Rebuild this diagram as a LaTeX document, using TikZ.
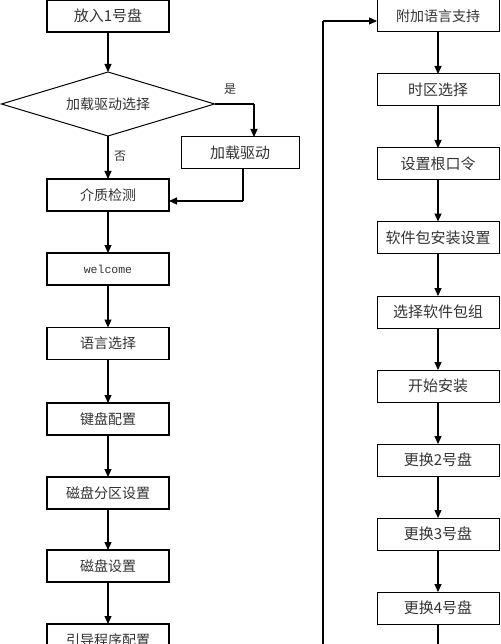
\documentclass[tikz,border=0pt]{standalone}
\usepackage{fontspec}
\newfontfamily\cjk{Noto Sans CJK SC}
\newfontfamily\monof{Liberation Mono}
\usetikzlibrary{shapes.geometric,arrows.meta}
\begin{document}
\begin{tikzpicture}[x=1pt,y=-1pt,
  lbox/.style={draw,line width=1.5pt,minimum width=122pt,minimum height=32pt,inner sep=0pt,outer sep=0pt,font=\cjk\fontsize{14}{14}\selectfont,text=black!80},
  rbox/.style={draw,line width=1pt,minimum width=122pt,minimum height=32pt,inner sep=0pt,outer sep=0pt,font=\cjk\fontsize{15}{15}\selectfont,text=black!80},
  arr/.style={line width=1.2pt,-{Triangle[length=8pt,width=7pt]}},
  ln/.style={line width=1.2pt},
  lbl/.style={font=\cjk\fontsize{12}{12}\selectfont,inner sep=0pt,text=black!80}]
\useasboundingbox (0,0) rectangle (500,644);
\clip (0,0) rectangle (500,644);
% left column
\node[lbox,font=\cjk\fontsize{15}{15}\selectfont] (l1) at (108,16) {放入1号盘};
\node[draw,diamond,line width=1pt,minimum width=213pt,minimum height=64pt,aspect=3.33,inner sep=0pt,outer sep=0pt,font=\cjk\fontsize{14}{14}\selectfont,text=black!80] (d) at (108,104) {加载驱动选择};
\node[rbox,minimum width=118pt] (k) at (240,153) {加载驱动};
\node[lbox] (m) at (108,195) {介质检测};
\node[lbox,font=\monof\fontsize{11.5}{11.5}\selectfont] (w) at (108,269) {welcome};
\node[lbox] (l4) at (108,343.5) {语言选择};
\node[lbox] (l5) at (108,419) {键盘配置};
\node[lbox] (l6) at (108,493) {磁盘分区设置};
\node[lbox] (l7) at (108,566) {磁盘设置};
\node[lbox] (l8) at (108,640) {引导程序配置};
% right column
\node[rbox,font=\cjk\fontsize{14}{14}\selectfont] (r1) at (438,16) {附加语言支持};
\node[rbox] (r2) at (438,90) {时区选择};
\node[rbox] (r3) at (438,164) {设置根口令};
\node[rbox] (r4) at (438,237.5) {软件包安装设置};
\node[rbox] (r5) at (438,312) {选择软件包组};
\node[rbox] (r6) at (438,386) {开始安装};
\node[rbox] (r7) at (438,460) {更换2号盘};
\node[rbox] (r8) at (438,534) {更换3号盘};
\node[rbox] (r9) at (438,608) {更换4号盘};
% labels
\node[lbl] (yes) at (230,89) {是};
\node[lbl] (no) at (120,156) {否};
% coordinates
\coordinate (c1) at (254,104);
\coordinate (c2) at (243,201);
\coordinate (c3) at (323,650);
\coordinate (c4) at (323,21);
\coordinate (c5) at (438,650);
% connectors left
\draw[arr] (l1) -- (d);
\draw[arr] (d.south) -- (m.north);
\draw[ln] (d.east) -- (c1);
\draw[arr] (c1) -- (c1 |- k.north);
\draw[ln] (c2 |- k.south) -- (c2);
\draw[arr] (c2) -- (c2 -| m.east);
\draw[arr] (m) -- (w);
\draw[arr] (w) -- (l4);
\draw[arr] (l4) -- (l5);
\draw[arr] (l5) -- (l6);
\draw[arr] (l6) -- (l7);
\draw[arr] (l7) -- (l8);
% connectors right
\draw[ln] (c3) -- (c4);
\draw[arr] (c4) -- (c4 -| r1.west);
\draw[arr] (r1) -- (r2);
\draw[arr] (r2) -- (r3);
\draw[arr] (r3) -- (r4);
\draw[arr] (r4) -- (r5);
\draw[arr] (r5) -- (r6);
\draw[arr] (r6) -- (r7);
\draw[arr] (r7) -- (r8);
\draw[arr] (r8) -- (r9);
\draw[ln] (r9) -- (c5);
\end{tikzpicture}
\end{document}
